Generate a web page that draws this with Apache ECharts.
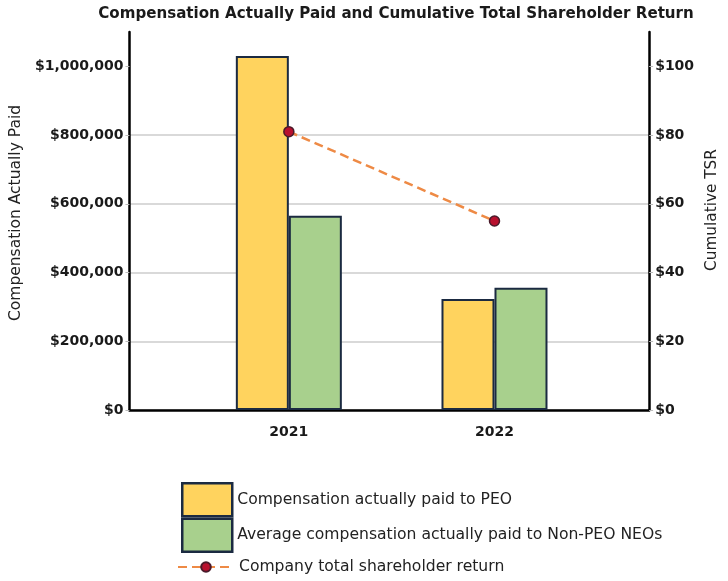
<!DOCTYPE html>
<html><head><meta charset="utf-8">
<script src="https://cdn.jsdelivr.net/npm/echarts@6/dist/echarts.min.js"></script>
<style>html,body{margin:0;padding:0;background:#fff}#c{width:728px;height:581px}</style>
</head><body><div id="c"></div>
<script>
const years = [2021, 2022];
const peoCap = [1030000, 323000];
const neoCap = [565000, 356000];
const tsr = [81, 55];
const leftTicks = [0, 200000, 400000, 600000, 800000, 1000000];
const rightTicks = [0, 20, 40, 60, 80, 100];

const FONT = '"DejaVu Sans", sans-serif';
const chart = echarts.init(document.getElementById('c'));
const fmtMoney = v => '$' + v.toLocaleString('en-US');
chart.setOption({
  animation: false,
  title: {
    text: 'Compensation Actually Paid and Cumulative Total Shareholder Return',
    left: 391, top: 2, textAlign: 'center',
    textStyle: {fontFamily: FONT, fontWeight: 'bold', fontSize: 15.1, color: '#1a1a1a'}
  },
  grid: {left: 125, right: 72, top: 32, bottom: 171, containLabel: false},
  legend: [{
    data: ['Compensation actually paid to PEO', 'Average compensation actually paid to Non-PEO NEOs'],
    orient: 'vertical', left: 176, top: 477, itemWidth: 50, itemHeight: 33, itemGap: 0,
    icon: 'rect', itemStyle: {borderWidth: 2.5, borderColor: '#1B2A41'},
    textStyle: {fontFamily: FONT, fontSize: 15.6, color: '#222'}
  }, {
    data: ['Company total shareholder return'],
    orient: 'vertical', left: 172, top: 554, itemWidth: 56, itemHeight: 12,
    textStyle: {fontFamily: FONT, fontSize: 15.6, color: '#222'}
  }],
  xAxis: {
    type: 'value', min: 2020.225, max: 2022.752,
    splitLine: {show: false},
    axisLine: {show: true, onZero: false, lineStyle: {color: '#000', width: 2.5}},
    axisTick: {show: false},
    axisLabel: {customValues: years, formatter: v => String(v), margin: 15,
      fontFamily: FONT, fontWeight: 'bold', fontSize: 14, color: '#1a1a1a'}
  },
  yAxis: [{
    type: 'value', min: 0, max: 1100000, interval: 200000,
    name: 'Compensation Actually Paid', nameLocation: 'middle', nameGap: 94, nameRotate: 90,
    nameTextStyle: {fontFamily: FONT, fontSize: 15.5, color: '#222', padding: [0, 0, 0, 16]},
    axisLine: {show: true, lineStyle: {color: '#000', width: 2.5}},
    axisTick: {show: true, length: 4, customValues: leftTicks, lineStyle: {color: '#bbb'}},
    axisLabel: {customValues: leftTicks, formatter: fmtMoney, margin: 6,
      fontFamily: FONT, fontWeight: 'bold', fontSize: 14, color: '#1a1a1a'},
    splitLine: {show: true, showMaxLine: false, lineStyle: {color: '#cccccc', width: 1.5}}
  }, {
    type: 'value', min: 0, max: 110, interval: 20,
    name: 'Cumulative TSR', nameLocation: 'middle', nameGap: 48, nameRotate: 90,
    nameTextStyle: {fontFamily: FONT, fontSize: 15.3, color: '#222', padding: [0, 0, 0, 22]},
    axisLine: {show: true, lineStyle: {color: '#000', width: 2.5}},
    axisTick: {show: true, length: 4, customValues: rightTicks, lineStyle: {color: '#bbb'}},
    axisLabel: {customValues: rightTicks, formatter: v => '$' + v, margin: 6,
      fontFamily: FONT, fontWeight: 'bold', fontSize: 14, color: '#1a1a1a'},
    splitLine: {show: false}
  }],
  series: [{
    name: 'Compensation actually paid to PEO', type: 'bar',
    data: years.map((y, i) => [y, peoCap[i]]),
    barWidth: 53, barGap: '0%',
    itemStyle: {color: '#FFD35E', borderColor: '#1B2A41', borderWidth: 2}
  }, {
    name: 'Average compensation actually paid to Non-PEO NEOs', type: 'bar',
    data: years.map((y, i) => [y, neoCap[i]]),
    barWidth: 53, barGap: '0%',
    itemStyle: {color: '#A8D08D', borderColor: '#1B2A41', borderWidth: 2}
  }, {
    name: 'Company total shareholder return', type: 'line', yAxisIndex: 1,
    data: years.map((y, i) => [y, tsr[i]]),
    symbol: 'circle', symbolSize: 10,
    lineStyle: {color: '#EE8A45', width: 2.5, type: [9, 5]},
    itemStyle: {color: '#B8102E', borderColor: '#4A1A2A', borderWidth: 1.5}
  }]
});
</script></body></html>
